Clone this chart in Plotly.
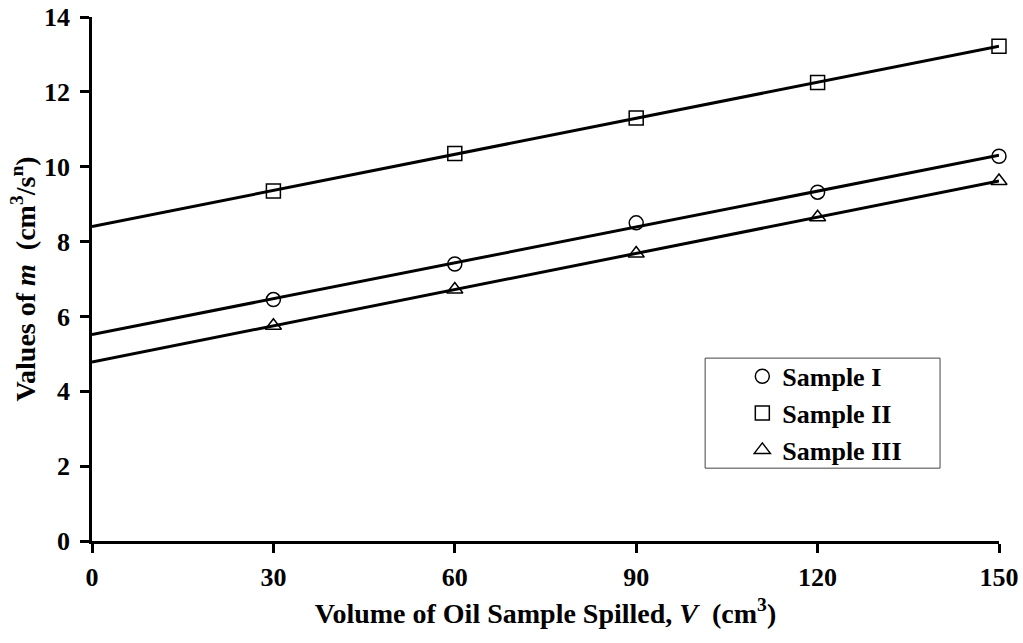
import numpy as np
import plotly.graph_objects as go

volume = [30, 60, 90, 120, 150]
sample_1 = [6.45, 7.40, 8.50, 9.32, 10.28]
sample_2 = [9.35, 10.35, 11.30, 12.25, 13.22]
sample_3 = [5.75, 6.72, 7.68, 8.65, 9.62]
names = ["Sample I", "Sample II", "Sample III"]
symbols = ["circle-open", "square-open", "triangle-up-open"]
x_ticks = [0, 30, 60, 90, 120, 150]
y_ticks = [0, 2, 4, 6, 8, 10, 12, 14]

FONT = "Liberation Serif"
TICKFONT = dict(family=FONT, size=26, color="black", weight="bold")
TITLEFONT = dict(family=FONT, size=28, color="black", weight="bold")
fig = go.Figure()

series = [sample_1, sample_2, sample_3]
x_line = np.array([0, 150])
for vals in series:
    slope, intercept = np.polyfit(volume, vals, 1)
    fig.add_trace(go.Scatter(
        x=x_line, y=slope * x_line + intercept, mode="lines",
        line=dict(color="black", width=3), showlegend=False, hoverinfo="skip"))

for vals, name, sym in zip(series, names, symbols):
    fig.add_trace(go.Scatter(
        x=volume, y=vals, mode="markers", name=name,
        marker=dict(symbol=sym, size=14, color="black", line=dict(width=1.5, color="black")),
        cliponaxis=False))

axis_common = dict(
    showline=True, linecolor="black", linewidth=2.5, ticks="outside", ticklen=9,
    tickwidth=2.5, tickcolor="black", showgrid=False, zeroline=False,
    tickfont=TICKFONT, automargin=False,
)
fig.update_xaxes(range=[0, 150], tickvals=x_ticks, ticklabelstandoff=2, **axis_common,
                 title=dict(text="Volume of Oil Sample Spilled, <i>V</i>  (cm<sup>3</sup>)",
                            font=TITLEFONT, standoff=13))
fig.update_yaxes(range=[0, 14], tickvals=y_ticks, ticklabelstandoff=5, **axis_common,
                 title=dict(text="Values of <i>m</i>  (cm<sup>3</sup>/s<sup>n</sup>)",
                            font=TITLEFONT, standoff=1))

fig.update_layout(
    width=1023, height=643,
    margin=dict(l=92, r=24, t=17, b=102),
    plot_bgcolor="white", paper_bgcolor="white",
    font=dict(family=FONT, color="black"),
    legend=dict(x=0.717, y=0.359, xanchor="left", yanchor="top",
                borderwidth=0, bgcolor="rgba(0,0,0,0)",
                font=dict(family=FONT, size=26, color="black", weight="bold"),
                itemwidth=30, tracegroupgap=0),
    shapes=[dict(type="rect", xref="paper", yref="paper",
                 x0=0.676, x1=0.935, y0=0.139, y1=0.349,
                 line=dict(color="#444", width=1), fillcolor="white", layer="below")],
)
fig.write_html("out.html", config={"displayModeBar": False},
               post_script="document.body.style.margin='0';")
